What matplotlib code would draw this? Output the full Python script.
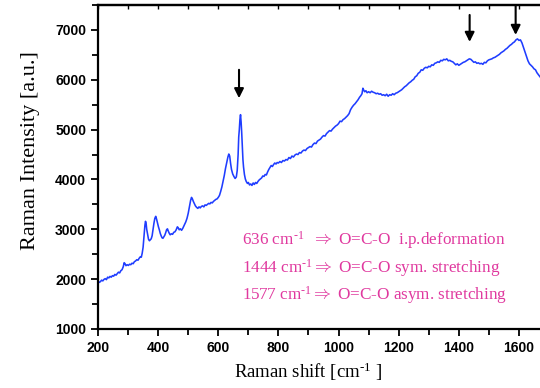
import matplotlib
matplotlib.use("Agg")
import matplotlib.pyplot as plt
from matplotlib.ticker import MultipleLocator

plt.rcParams["mathtext.fontset"] = "custom"
plt.rcParams["mathtext.rm"] = "Liberation Serif"
plt.rcParams["mathtext.it"] = "Liberation Serif:italic"
plt.rcParams["mathtext.bf"] = "Liberation Serif:bold"

# Raman spectrum: wavenumber shift (cm^-1) and intensity (a.u.)
shift = [
    200, 204, 208, 212, 216, 220, 224, 228, 232, 236, 240, 244, 248, 252, 256, 260,
    264, 268, 272, 276, 280, 284, 287, 290, 293, 297, 301, 305, 309, 313, 317, 321,
    325, 329, 333, 337, 341, 344, 347, 350, 353, 356, 358, 360, 362, 365, 368, 371,
    374, 377, 380, 383, 386, 389, 392, 395, 398, 401, 404, 407, 410, 413, 416, 419,
    422, 425, 428, 431, 434, 437, 440, 444, 448, 452, 456, 460, 464, 467, 470, 474,
    478, 482, 486, 489, 492, 496, 500, 504, 508, 511, 514, 517, 520, 524, 528, 532,
    536, 540, 544, 548, 552, 556, 560, 564, 568, 572, 576, 580, 584, 588, 592, 596,
    600, 604, 608, 612, 616, 620, 624, 628, 632, 635, 638, 641, 644, 648, 652, 656,
    660, 663, 666, 668, 670, 672, 674, 676, 678, 680, 682, 684, 687, 690, 693, 697,
    700, 704, 708, 712, 716, 720, 724, 728, 732, 736, 740, 744, 748, 752, 756, 760,
    764, 768, 772, 776, 780, 784, 788, 792, 796, 800, 805, 810, 815, 820, 825, 830,
    835, 840, 845, 850, 855, 860, 865, 870, 875, 880, 885, 890, 895, 900, 905, 910,
    915, 920, 925, 930, 935, 940, 945, 950, 955, 960, 965, 970, 975, 980, 985, 990,
    995, 1000, 1005, 1010, 1015, 1020, 1025, 1030, 1035, 1040, 1045, 1050, 1055, 1060,
    1065, 1070, 1074, 1078, 1081, 1084, 1087, 1091, 1095, 1100, 1105, 1110, 1115, 1120,
    1125, 1130, 1135, 1140, 1145, 1150, 1155, 1160, 1165, 1170, 1175, 1180, 1185, 1190,
    1195, 1200, 1205, 1210, 1215, 1220, 1225, 1230, 1235, 1240, 1245, 1250, 1255, 1260,
    1265, 1270, 1275, 1280, 1285, 1290, 1295, 1300, 1305, 1310, 1315, 1320, 1325, 1330,
    1335, 1340, 1345, 1350, 1355, 1360, 1365, 1370, 1375, 1380, 1385, 1390, 1395, 1400,
    1405, 1410, 1415, 1420, 1425, 1430, 1435, 1440, 1445, 1450, 1455, 1460, 1465, 1470,
    1475, 1480, 1485, 1490, 1495, 1500, 1505, 1510, 1515, 1520, 1525, 1530, 1535, 1540,
    1545, 1550, 1555, 1560, 1565, 1570, 1575, 1580, 1585, 1590, 1595, 1600, 1605, 1610,
    1615, 1620, 1625, 1630, 1635, 1640, 1645, 1650, 1655, 1660, 1665, 1670,
]
intensity = [
    1960, 1935, 1950, 1980, 1965, 1995, 2010, 1990, 2040, 2025, 2055, 2040, 2070, 2060, 2095, 2080,
    2110, 2140, 2125, 2170, 2190, 2250, 2330, 2310, 2270, 2290, 2275, 2300, 2290, 2320, 2310, 2350,
    2365, 2390, 2380, 2420, 2450, 2440, 2520, 2640, 2850, 3080, 3160, 3120, 3000, 2900, 2800, 2770,
    2790, 2810, 2870, 3000, 3120, 3220, 3260, 3200, 3120, 3050, 2990, 2920, 2870, 2830, 2820, 2850,
    2880, 2930, 2990, 3010, 2960, 2920, 2890, 2910, 2900, 2940, 2950, 2990, 3050, 3030, 2990, 3010,
    2980, 3020, 3070, 3110, 3150, 3220, 3320, 3450, 3580, 3640, 3610, 3560, 3520, 3470, 3440, 3420,
    3450, 3430, 3460, 3470, 3450, 3490, 3480, 3500, 3520, 3510, 3540, 3530, 3560, 3580, 3600, 3610,
    3640, 3680, 3760, 3850, 3960, 4080, 4220, 4330, 4450, 4510, 4470, 4320, 4200, 4110, 4060, 4020,
    4050, 4180, 4500, 4850, 5000, 5200, 5300, 5150, 4930, 4650, 4400, 4250, 4100, 4010, 3960, 3920,
    3940, 3890, 3910, 3880, 3930, 3900, 3940, 3920, 3960, 3990, 4010, 4030, 4070, 4060, 4100, 4090,
    4150, 4200, 4240, 4280, 4260, 4300, 4330, 4310, 4340, 4330, 4360, 4340, 4380, 4370, 4400, 4390,
    4440, 4420, 4470, 4450, 4490, 4510, 4500, 4540, 4530, 4570, 4590, 4580, 4620, 4640, 4660, 4650,
    4700, 4730, 4720, 4770, 4790, 4810, 4850, 4880, 4870, 4920, 4950, 4980, 4970, 5010, 5040, 5070,
    5090, 5120, 5170, 5160, 5200, 5220, 5250, 5280, 5320, 5400, 5450, 5490, 5520, 5560,
    5600, 5650, 5680, 5720, 5830, 5790, 5760, 5780, 5740, 5760, 5740, 5770, 5750, 5740,
    5720, 5730, 5710, 5720, 5690, 5700, 5680, 5710, 5670, 5700, 5690, 5720, 5700, 5730,
    5740, 5760, 5780, 5800, 5830, 5860, 5880, 5910, 5940, 5960, 5990, 6010, 6060, 6080,
    6130, 6150, 6200, 6190, 6230, 6250, 6240, 6270, 6260, 6300, 6290, 6330, 6340, 6360,
    6350, 6390, 6380, 6410, 6400, 6420, 6380, 6390, 6370, 6360, 6330, 6300, 6320, 6290,
    6310, 6330, 6350, 6360, 6380, 6400, 6420, 6410, 6380, 6350, 6360, 6330, 6340, 6320,
    6330, 6310, 6350, 6340, 6380, 6400, 6410, 6420, 6440, 6450, 6470, 6490, 6510, 6540,
    6560, 6580, 6610, 6630, 6660, 6690, 6710, 6740, 6760, 6800, 6820, 6790, 6800, 6740,
    6650, 6560, 6470, 6380, 6320, 6290, 6260, 6220, 6200, 6140, 6100, 6060,
]

# Band assignments: arrow x position, arrow tail and tip heights
arrow_x = [669, 1436, 1589]
arrow_tail = [6200, 7300, 7480]
arrow_tip = [5630, 6760, 6900]

band_labels = [
    r"636 cm$^{\text{-1}}$  $\Rightarrow$ O=C-O  i.p.deformation",
    r"1444 cm$^{\text{-1}}$$\Rightarrow$ O=C-O sym. stretching",
    r"1577 cm$^{\text{-1}}$$\Rightarrow$ O=C-O asym. stretching",
]
label_y = [2790, 2230, 1690]

x_ticks = [200, 400, 600, 800, 1000, 1200, 1400, 1600]
y_ticks = [1000, 2000, 3000, 4000, 5000, 6000, 7000]

fig = plt.figure(figsize=(5.4, 3.88), dpi=100)
ax = fig.add_axes([98 / 540, 1 - 329 / 388, 1 - 98 / 540, (329 - 5) / 388])

ax.plot(shift, intensity, color="#1f3dff", lw=1.15)

for x, t0, t1 in zip(arrow_x, arrow_tail, arrow_tip):
    ax.annotate("", xy=(x, t1), xytext=(x, t0),
                arrowprops=dict(arrowstyle="-|>", color="black", lw=1.5,
                                mutation_scale=14, shrinkA=0, shrinkB=0),
                annotation_clip=False)

for txt, y in zip(band_labels, label_y):
    ax.text(678, y, txt, color="#e0399f", fontsize=12.3, family="Liberation Serif",
            va="center", ha="left")

ax.set_xlim(200, 1670)
ax.set_ylim(1000, 7500)
ax.set_xticks(x_ticks)
ax.set_yticks(y_ticks)
ax.xaxis.set_minor_locator(MultipleLocator(100))
ax.yaxis.set_minor_locator(MultipleLocator(500))

for side in ["left", "bottom", "top"]:
    ax.spines[side].set_linewidth(1.6)
ax.spines["right"].set_visible(False)

ax.tick_params(axis="both", which="both", direction="out", width=1.3,
               labelsize=10)
ax.tick_params(which="major", length=5)
ax.tick_params(which="minor", length=4)
for lab in ax.get_xticklabels() + ax.get_yticklabels():
    lab.set_fontfamily("Liberation Sans")
    lab.set_fontweight("bold")

# inward ticks along the top frame
top = ax.secondary_xaxis("top")
top.xaxis.set_major_locator(MultipleLocator(100))
top.tick_params(direction="in", length=3, width=1.0, labeltop=False)
top.spines["top"].set_linewidth(1.6)

ax.set_xlabel(r"Raman shift [cm$^{\text{-1}}$ ]", family="Liberation Serif",
              fontsize=13.5)
ax.xaxis.set_label_coords((308 - 98) / 442, -(361 - 329) / 324)
ax.set_ylabel("Raman Intensity [a.u.]", family="Liberation Serif", fontsize=16)
ax.yaxis.set_label_coords(-(98 - 40) / 442, (329 - 151) / 324)

fig.savefig("out.png", dpi=100)
